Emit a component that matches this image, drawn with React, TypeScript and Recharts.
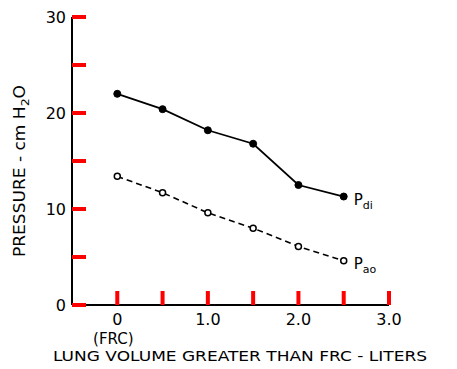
import { LineChart, Line, XAxis, YAxis, Label, LabelList } from 'recharts'

// lung volume above FRC (liters)
const volumes = [0, 0.5, 1.0, 1.5, 2.0, 2.5]
// pressures, cm H2O
const pdiValues = [22.0, 20.4, 18.2, 16.8, 12.5, 11.3]
const paoValues = [13.4, 11.7, 9.6, 8.0, 6.1, 4.6]

const xTicks = [0, 0.5, 1.0, 1.5, 2.0, 2.5, 3.0]
const yTicks = [0, 5, 10, 15, 20, 25, 30]
const xTickLabels: Record<string, string> = { '0': '0', '1': '1.0', '2': '2.0', '3': '3.0' }
const yTickLabels: Record<string, string> = { '0': '0', '10': '10', '20': '20', '30': '30' }

const FONT = '"DejaVu Sans", sans-serif'

const data = volumes.map((vol, i) => ({ vol, pdi: pdiValues[i], pao: paoValues[i] }))

function XTick(props: any) {
  const x = Number(props.x)
  const y = Number(props.y)
  const label = xTickLabels[String(props.payload.value)]
  return (
    <g>
      <rect x={x - 2} y={y - 14} width={4} height={14} fill='red' />
      {label && (
        <text x={x} y={y + 20} textAnchor='middle' fontSize={16} fontFamily={FONT} fill='#000'>
          {label}
        </text>
      )}
      {props.payload.value === 0 && (
        <text x={x - 4} y={y + 39} textAnchor='middle' fontSize={15} fontFamily={FONT} fill='#000'>
          (FRC)
        </text>
      )}
    </g>
  )
}

function YTick(props: any) {
  const x = Number(props.x)
  const y = Number(props.y)
  const label = yTickLabels[String(props.payload.value)]
  return (
    <g>
      <rect x={x} y={y - 2} width={14} height={4} fill='red' />
      {label && (
        <text x={x - 6} y={y + 6} textAnchor='end' fontSize={16} fontFamily={FONT} fill='#000'>
          {label}
        </text>
      )}
    </g>
  )
}

const endLabel = (sub: string) => (props: any) => {
  const { index } = props
  const x = Number(props.x)
  const y = Number(props.y)
  if (index !== volumes.length - 1) return null
  return (
    <text x={x + 10} y={y + 8} fontSize={15} fontFamily={FONT} fill='#000'>
      P
      <tspan fontSize={11} dy={4}>
        {sub}
      </tspan>
    </text>
  )
}

export default function App() {
  return (
    <div style={{ position: 'absolute', left: 0, top: 0, width: 457, height: 369, background: '#fff' }}>
      <LineChart
        width={457}
        height={369}
        data={data}
        margin={{ top: 17, right: 68, bottom: 0, left: 0 }}
      >
        <XAxis
          dataKey='vol'
          type='number'
          domain={[-0.5, 3]}
          ticks={xTicks}
          height={64}
          tickSize={0}
          tickMargin={0}
          tickLine={false}
          axisLine={{ stroke: '#000', strokeWidth: 2 }}
          tick={<XTick />}
          interval={0}
        >
          <Label
            content={() => (
              <text x={240} y={361} textAnchor='middle' fontSize={14} fontFamily={FONT} fill='#000'
                textLength={374} lengthAdjust='spacingAndGlyphs'>
                LUNG VOLUME GREATER THAN FRC - LITERS
              </text>
            )}
          />
        </XAxis>
        <YAxis
          type='number'
          domain={[0, 30]}
          ticks={yTicks}
          width={72}
          tickSize={0}
          tickMargin={0}
          tickLine={false}
          axisLine={{ stroke: '#000', strokeWidth: 2 }}
          tick={<YTick />}
          interval={0}
        >
          <Label
            content={() => (
              <text transform='translate(25,171) rotate(-90)' textAnchor='middle' fontSize={15}
                fontFamily={FONT} fill='#000' textLength={172} lengthAdjust='spacingAndGlyphs'>
                PRESSURE - cm H
                <tspan fontSize={11} dy={4}>2</tspan>
                <tspan dy={-4}>O</tspan>
              </text>
            )}
          />
        </YAxis>
        <Line
          dataKey='pdi'
          stroke='#000'
          strokeWidth={1.8}
          dot={{ r: 3.5, fill: '#000', stroke: '#000', strokeWidth: 1 }}
          isAnimationActive={false}
        >
          <LabelList dataKey='pdi' content={endLabel('di')} />
        </Line>
        <Line
          dataKey='pao'
          stroke='#000'
          strokeWidth={1.6}
          strokeDasharray='6 4'
          dot={{ r: 3, fill: '#fff', stroke: '#000', strokeWidth: 1.5, strokeDasharray: '' }}
          isAnimationActive={false}
        >
          <LabelList dataKey='pao' content={endLabel('ao')} />
        </Line>
      </LineChart>
    </div>
  )
}
